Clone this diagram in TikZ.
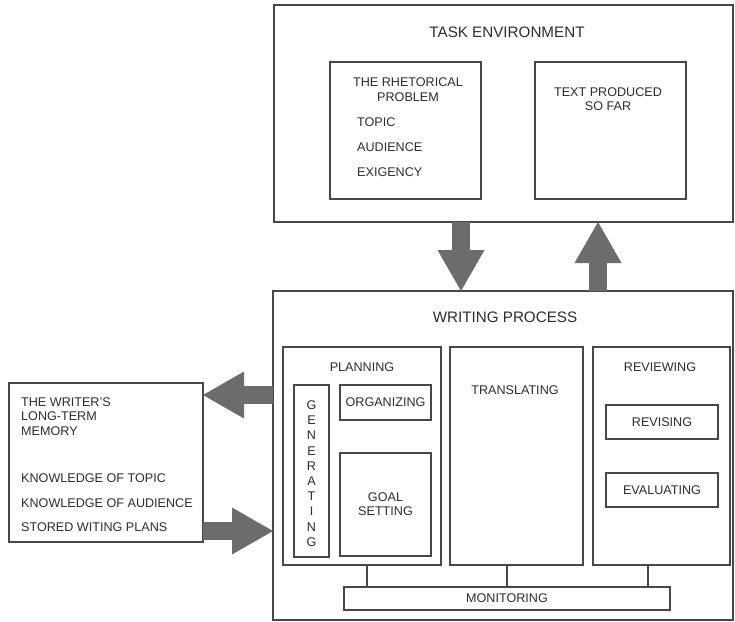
\documentclass[tikz,border=0pt]{standalone}
\usepackage{fontspec}
\setmainfont{Liberation Sans}
\usetikzlibrary{arrows.meta,positioning}
\definecolor{framegray}{RGB}{72,72,72}
\definecolor{arrowgray}{RGB}{108,108,108}
\definecolor{inkgray}{RGB}{45,45,45}

\begin{document}
\begin{tikzpicture}[x=1pt,y=-1pt,
    box/.style={draw=framegray,line width=1.1pt,anchor=north west,
      inner sep=0pt,outer sep=0pt},
    txt/.style={text=inkgray,inner sep=0pt,font=\fontsize{12.6}{14.5}\selectfont},
    head/.style={txt,font=\fontsize{15.2}{17}\selectfont},
    fat/.style={draw=arrowgray,line width=18pt,
      -{Triangle[length=41pt 0,width=47pt 0,line width=0pt]}},
    tick/.style={draw=framegray,line width=1.1pt}
  ]
    \useasboundingbox[fill=white] (0,0) rectangle (735,621);
    % task environment
    \node[box,minimum width=459pt,minimum height=217pt] (task) at (274,5) {};
    \node[box,minimum width=151pt,minimum height=137pt] (rhet) at (330,62) {};
    \node[box,minimum width=151pt,minimum height=137pt] (sofar) at (535,62) {};
    \node[head] (tasklbl) at (507,32) {TASK ENVIRONMENT};
    \node[txt,align=center] (rhetlbl) at (408,89.5) {THE RHETORICAL\\PROBLEM};
    \node[txt,align=left,anchor=west] (rhetlist) at (357,147.5)
      {TOPIC\\[10.5pt]AUDIENCE\\[10.5pt]EXIGENCY};
    \node[txt,align=center] (sofarlbl) at (608,99) {TEXT PRODUCED\\SO FAR};
    % writing process
    \node[box,minimum width=460pt,minimum height=329pt] (wp) at (273,291) {};
    \node[box,minimum width=158pt,minimum height=218pt] (plan) at (283,347) {};
    \node[box,minimum width=133pt,minimum height=218pt] (trans) at (450,347) {};
    \node[box,minimum width=137pt,minimum height=218pt] (rev) at (593,347) {};
    \node[box,minimum width=35pt,minimum height=172pt] (gen) at (294,385) {};
    \node[box,minimum width=91pt,minimum height=35pt] (org) at (340,385) {};
    \node[box,minimum width=91pt,minimum height=103pt] (goal) at (340,453) {};
    \node[box,minimum width=112pt,minimum height=34pt] (revis) at (606,405) {};
    \node[box,minimum width=112pt,minimum height=34pt] (evalb) at (606,473) {};
    \node[box,minimum width=326pt,minimum height=23pt] (mon) at (344,587) {};
    \node[head] (wplbl) at (505,317) {WRITING PROCESS};
    \node[txt] (planlbl) at (362,367) {PLANNING};
    \node[txt] (translbl) at (515,390) {TRANSLATING};
    \node[txt] (revlbl) at (660,367) {REVIEWING};
    \node[txt,align=center,font=\fontsize{12.6}{15.2}\selectfont] (genlbl) at (311.5,473.5)
      {G\\E\\N\\E\\R\\A\\T\\I\\N\\G};
    \node[txt] (orglbl) at (org.center) {ORGANIZING};
    \node[txt,align=center] (goallbl) at (385.5,504) {GOAL\\SETTING};
    \node[txt] (revislbl) at (revis.center) {REVISING};
    \node[txt] (evallbl) at (evalb.center) {EVALUATING};
    \node[txt] (monlbl) at (mon.center) {MONITORING};
    \draw[tick] ([xshift=5pt]plan.south) -- ([xshift=5pt]plan.south |- mon.north);
    \draw[tick] ([xshift=-9.5pt]trans.south) -- ([xshift=-9.5pt]trans.south |- mon.north);
    \draw[tick] ([xshift=-13.5pt]rev.south) -- ([xshift=-13.5pt]rev.south |- mon.north);
    % long-term memory
    \node[box,minimum width=194pt,minimum height=159pt] (mem) at (9,383) {};
    \node[txt,align=left,anchor=west] (memlbl) at (21,416.5)
      {THE WRITER'S\\LONG-TERM\\MEMORY};
    \node[txt,align=left,anchor=west] (memlist) at (21,503)
      {KNOWLEDGE OF TOPIC\\[10pt]KNOWLEDGE OF AUDIENCE\\[10pt]STORED WITING PLANS};
    % big arrows
    \draw[fat] ([xshift=-42.5pt]task.south) -- ([xshift=-42.5pt]task.south |- wp.north);
    \draw[fat] ([xshift=95pt]wp.north) -- ([xshift=95pt]wp.north |- task.south);
    \draw[fat] ([yshift=60.5pt]wp.west) -- ([yshift=60.5pt]wp.west -| mem.east);
    \draw[fat] ([yshift=-68.5pt]mem.east) -- ([yshift=-68.5pt]mem.east -| wp.west);
  \end{tikzpicture}
\end{document}
